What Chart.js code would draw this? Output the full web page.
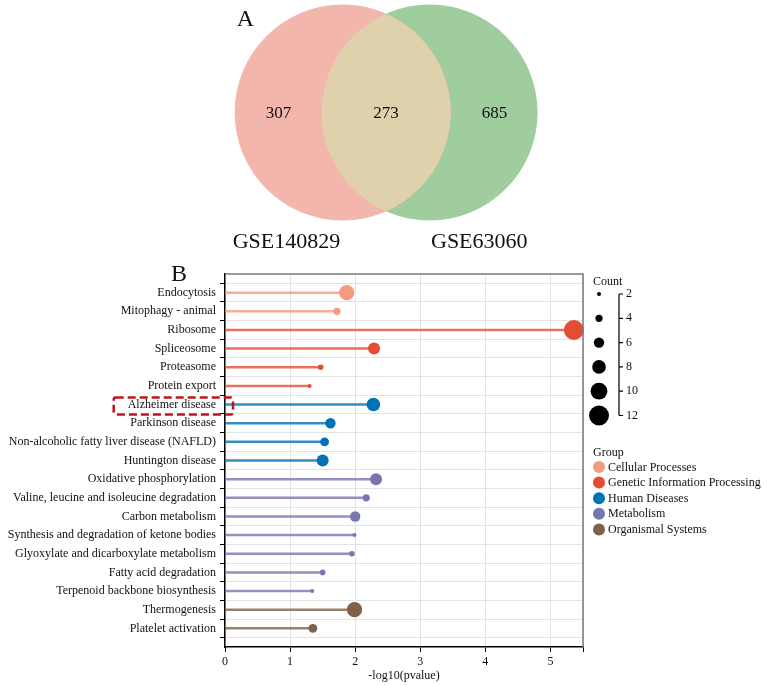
<!DOCTYPE html>
<html><head><meta charset="utf-8">
<script src="https://cdn.jsdelivr.net/npm/chart.js@4.4.1/dist/chart.umd.min.js"></script>
<style>
html,body{margin:0;padding:0;background:#fff;}
#wrap{width:767px;height:685px;position:relative;}
canvas{display:block;}
</style></head><body>
<div id="wrap">
<canvas id="venn" width="767" height="255"></canvas>
<canvas id="lolli" width="767" height="430"></canvas>
</div>
<script>
const FONT = "'Liberation Serif','Times New Roman',serif";

// ---------- Panel A: Venn ----------
const vennSets = ['GSE140829', 'GSE63060'];
const vennRegionCounts = [307, 273, 685]; // only first, shared, only second
const vennColors = ['#F3B6AC', '#A0CD9E'];
const vennOverlapColor = '#DFD1AC';

// ---------- Panel B: KEGG lollipop ----------
const pathways = [
  'Endocytosis',
  'Mitophagy - animal',
  'Ribosome',
  'Spliceosome',
  'Proteasome',
  'Protein export',
  'Alzheimer disease',
  'Parkinson disease',
  'Non-alcoholic fatty liver disease (NAFLD)',
  'Huntington disease',
  'Oxidative phosphorylation',
  'Valine, leucine and isoleucine degradation',
  'Carbon metabolism',
  'Synthesis and degradation of ketone bodies',
  'Glyoxylate and dicarboxylate metabolism',
  'Fatty acid degradation',
  'Terpenoid backbone biosynthesis',
  'Thermogenesis',
  'Platelet activation'
];
const minusLog10P = [1.87, 1.72, 5.36, 2.29, 1.47, 1.30, 2.28, 1.62, 1.53, 1.50, 2.32, 2.17, 2.00, 1.99, 1.95, 1.50, 1.34, 1.99, 1.35];
const geneCounts  = [9, 4, 12, 7, 3, 2, 8, 6, 5, 7, 7, 4, 6, 2, 3, 3, 2, 9, 5];
const pathwayGroups = [
  'Cellular Processes', 'Cellular Processes',
  'Genetic Information Processing', 'Genetic Information Processing', 'Genetic Information Processing', 'Genetic Information Processing',
  'Human Diseases', 'Human Diseases', 'Human Diseases', 'Human Diseases',
  'Metabolism', 'Metabolism', 'Metabolism', 'Metabolism', 'Metabolism', 'Metabolism', 'Metabolism',
  'Organismal Systems', 'Organismal Systems'
];
const groupNames  = ['Cellular Processes', 'Genetic Information Processing', 'Human Diseases', 'Metabolism', 'Organismal Systems'];
const groupColors = ['#F39B7F', '#E64B35', '#0072B5', '#7876B1', '#7E6148'];
const countLegendTicks = [2, 4, 6, 8, 10, 12];
const highlightedPathway = 'Alzheimer disease';

const sizeOf = c => 2 + (c - 2) * 0.8;
const colorOf = g => groupColors[groupNames.indexOf(g)];
const rowColors = pathwayGroups.map(colorOf);
const withAlpha = (hex, a) => {
  const n = parseInt(hex.slice(1), 16);
  return `rgba(${(n >> 16) & 255},${(n >> 8) & 255},${n & 255},${a})`;
};

// ---------- Venn chart ----------
const VENN_BOTTOM_PAD = 30;
const vennRadius = chart => (chart.height - VENN_BOTTOM_PAD) * 0.48;

const vennPlugin = {
  id: 'vennDecor',
  afterDatasetsDraw(chart) {
    const ctx = chart.ctx;
    const a = chart.getDatasetMeta(0).data[0];
    const b = chart.getDatasetMeta(1).data[0];
    const r = vennRadius(chart);
    ctx.save();
    ctx.beginPath(); ctx.arc(a.x, a.y, r, 0, Math.PI * 2); ctx.clip();
    ctx.beginPath(); ctx.arc(b.x, b.y, r, 0, Math.PI * 2);
    ctx.fillStyle = vennOverlapColor; ctx.fill();
    ctx.restore();

    ctx.save();
    ctx.fillStyle = '#111';
    ctx.textAlign = 'center';
    ctx.textBaseline = 'alphabetic';
    ctx.font = `17px ${FONT}`;
    ctx.fillText(String(vennRegionCounts[0]), a.x - 0.593 * r, a.y + 5.5);
    ctx.fillText(String(vennRegionCounts[1]), (a.x + b.x) / 2, a.y + 5.5);
    ctx.fillText(String(vennRegionCounts[2]), b.x + 0.6 * r, a.y + 5.5);
    ctx.font = `22px ${FONT}`;
    ctx.fillText(vennSets[0], a.x - 0.52 * r, a.y + r + 27);
    ctx.fillText(vennSets[1], b.x + 0.46 * r, a.y + r + 27);
    ctx.font = `24px ${FONT}`;
    ctx.fillText('A', a.x - 0.9 * r, a.y - 0.8 * r);
    ctx.restore();
  }
};

new Chart(document.getElementById('venn'), {
  type: 'bubble',
  data: {
    datasets: vennSets.map((name, i) => ({
      label: name,
      data: [{ x: i === 0 ? -0.5 : 0.5, y: 0 }],
      backgroundColor: vennColors[i],
      borderWidth: 0,
      clip: false,
      radius: c => vennRadius(c.chart)
    }))
  },
  options: {
    responsive: false,
    animation: false,
    events: [],
    layout: { autoPadding: false, padding: { top: 0, bottom: VENN_BOTTOM_PAD, left: 0, right: 0 } },
    plugins: { legend: { display: false }, tooltip: { enabled: false } },
    scales: {
      x: { type: 'linear', min: -4.44, max: 4.38, display: false },
      y: { type: 'linear', min: -1, max: 1, display: false }
    }
  },
  plugins: [vennPlugin]
});

// ---------- Lollipop chart ----------
const lolliPlugin = {
  id: 'lolliDecor',
  afterDraw(chart) {
    const ctx = chart.ctx;
    const { left, right, top, bottom } = chart.chartArea;
    const ys = chart.scales.y;
    ctx.save();
    // top & right frame
    ctx.strokeStyle = '#7a7a7a';
    ctx.lineWidth = 1.5;
    ctx.beginPath();
    ctx.moveTo(left, top); ctx.lineTo(right, top); ctx.lineTo(right, bottom);
    ctx.stroke();

    // panel label
    ctx.fillStyle = '#111';
    ctx.font = `24px ${FONT}`;
    ctx.textAlign = 'center';
    ctx.textBaseline = 'alphabetic';
    ctx.fillText('B', left - 46, top + 7);

    // highlight box
    const hi = pathways.indexOf(highlightedPathway);
    const yRow = ys.getPixelForValue(hi + 1);
    ctx.font = `12px ${FONT}`;
    const tw = ctx.measureText(highlightedPathway).width;
    const labelRight = left - 8;
    ctx.strokeStyle = '#C0141B';
    ctx.lineWidth = 2.5;
    ctx.setLineDash([8, 4]);
    ctx.beginPath();
    ctx.roundRect(labelRight - tw - 15, yRow - 7, (left + 8) - (labelRight - tw - 15), 17, 2);
    ctx.stroke();
    ctx.setLineDash([]);

    // Count legend
    const lx = right + 10;
    const dotX = right + 16;
    ctx.fillStyle = '#111';
    ctx.textAlign = 'left';
    ctx.textBaseline = 'middle';
    ctx.font = `12px ${FONT}`;
    ctx.fillText('Count', lx, top + 8);
    const step = 24.3;
    const y0 = top + 20;
    countLegendTicks.forEach((c, i) => {
      ctx.beginPath();
      ctx.arc(dotX, y0 + i * step, sizeOf(c), 0, Math.PI * 2);
      ctx.fillStyle = '#000';
      ctx.fill();
    });
    const bx = right + 36;
    ctx.strokeStyle = '#000';
    ctx.lineWidth = 1.2;
    ctx.beginPath();
    ctx.moveTo(bx, y0); ctx.lineTo(bx, y0 + 5 * step);
    countLegendTicks.forEach((c, i) => {
      ctx.moveTo(bx, y0 + i * step); ctx.lineTo(bx + 4, y0 + i * step);
    });
    ctx.stroke();
    ctx.fillStyle = '#111';
    countLegendTicks.forEach((c, i) => {
      ctx.fillText(String(c), bx + 7, y0 + i * step);
    });

    // Group legend
    ctx.fillText('Group', lx, top + 179);
    groupNames.forEach((g, i) => {
      const yy = top + 193 + i * 15.6;
      ctx.beginPath();
      ctx.arc(dotX, yy, 6, 0, Math.PI * 2);
      ctx.fillStyle = groupColors[i];
      ctx.fill();
      ctx.fillStyle = '#111';
      ctx.fillText(g, lx + 15, yy + 0.5);
    });
    ctx.restore();
  }
};

new Chart(document.getElementById('lolli'), {
  type: 'bubble',
  data: {
    datasets: [
      {
        type: 'bubble',
        label: 'Count',
        data: pathways.map((p, i) => ({ x: minusLog10P[i], y: i + 1, r: sizeOf(geneCounts[i]) })),
        backgroundColor: rowColors,
        borderWidth: 0,
        clip: false,
        order: 0
      },
      {
        type: 'bar',
        label: 'stem',
        indexAxis: 'y',
        data: pathways.map((p, i) => ({ x: minusLog10P[i], y: i + 1 })),
        backgroundColor: rowColors.map(c => withAlpha(c, 0.8)),
        borderWidth: 0,
        barThickness: 1.8,
        order: 1
      }
    ]
  },
  options: {
    responsive: false,
    animation: false,
    events: [],
    layout: { autoPadding: false, padding: { top: 19, right: 184, left: 0, bottom: 0 } },
    plugins: { legend: { display: false }, tooltip: { enabled: false } },
    scales: {
      x: {
        type: 'linear', position: 'bottom', min: 0, max: 5.5, offset: false,
        ticks: {
          stepSize: 1, color: '#111', padding: 3,
          font: { family: FONT, size: 12 },
          callback: v => Number.isInteger(v) ? String(v) : ''
        },
        grid: { color: '#e3e3e3', lineWidth: 1, tickColor: '#000', tickLength: 5, drawTicks: true },
        border: { color: '#000', width: 1.5 },
        title: { display: true, text: '-log10(pvalue)', color: '#111', font: { family: FONT, size: 12 }, padding: { top: 0, bottom: 2 } },
        afterFit: s => { s.height = 38; }
      },
      y: {
        type: 'linear', position: 'left', min: 0, max: 20, reverse: true, offset: false,
        ticks: {
          stepSize: 1, autoSkip: false, maxTicksLimit: 40, color: '#111', padding: 4,
          font: { family: FONT, size: 12 },
          callback: v => (Number.isInteger(v) && v >= 1 && v <= pathways.length) ? pathways[v - 1] : ''
        },
        grid: { color: '#e3e3e3', lineWidth: 1, tickColor: '#000', tickLength: 5, drawTicks: true },
        border: { color: '#000', width: 1.5 },
        afterFit: s => { s.width = 225; }
      }
    }
  },
  plugins: [lolliPlugin]
});
</script>
</body></html>
